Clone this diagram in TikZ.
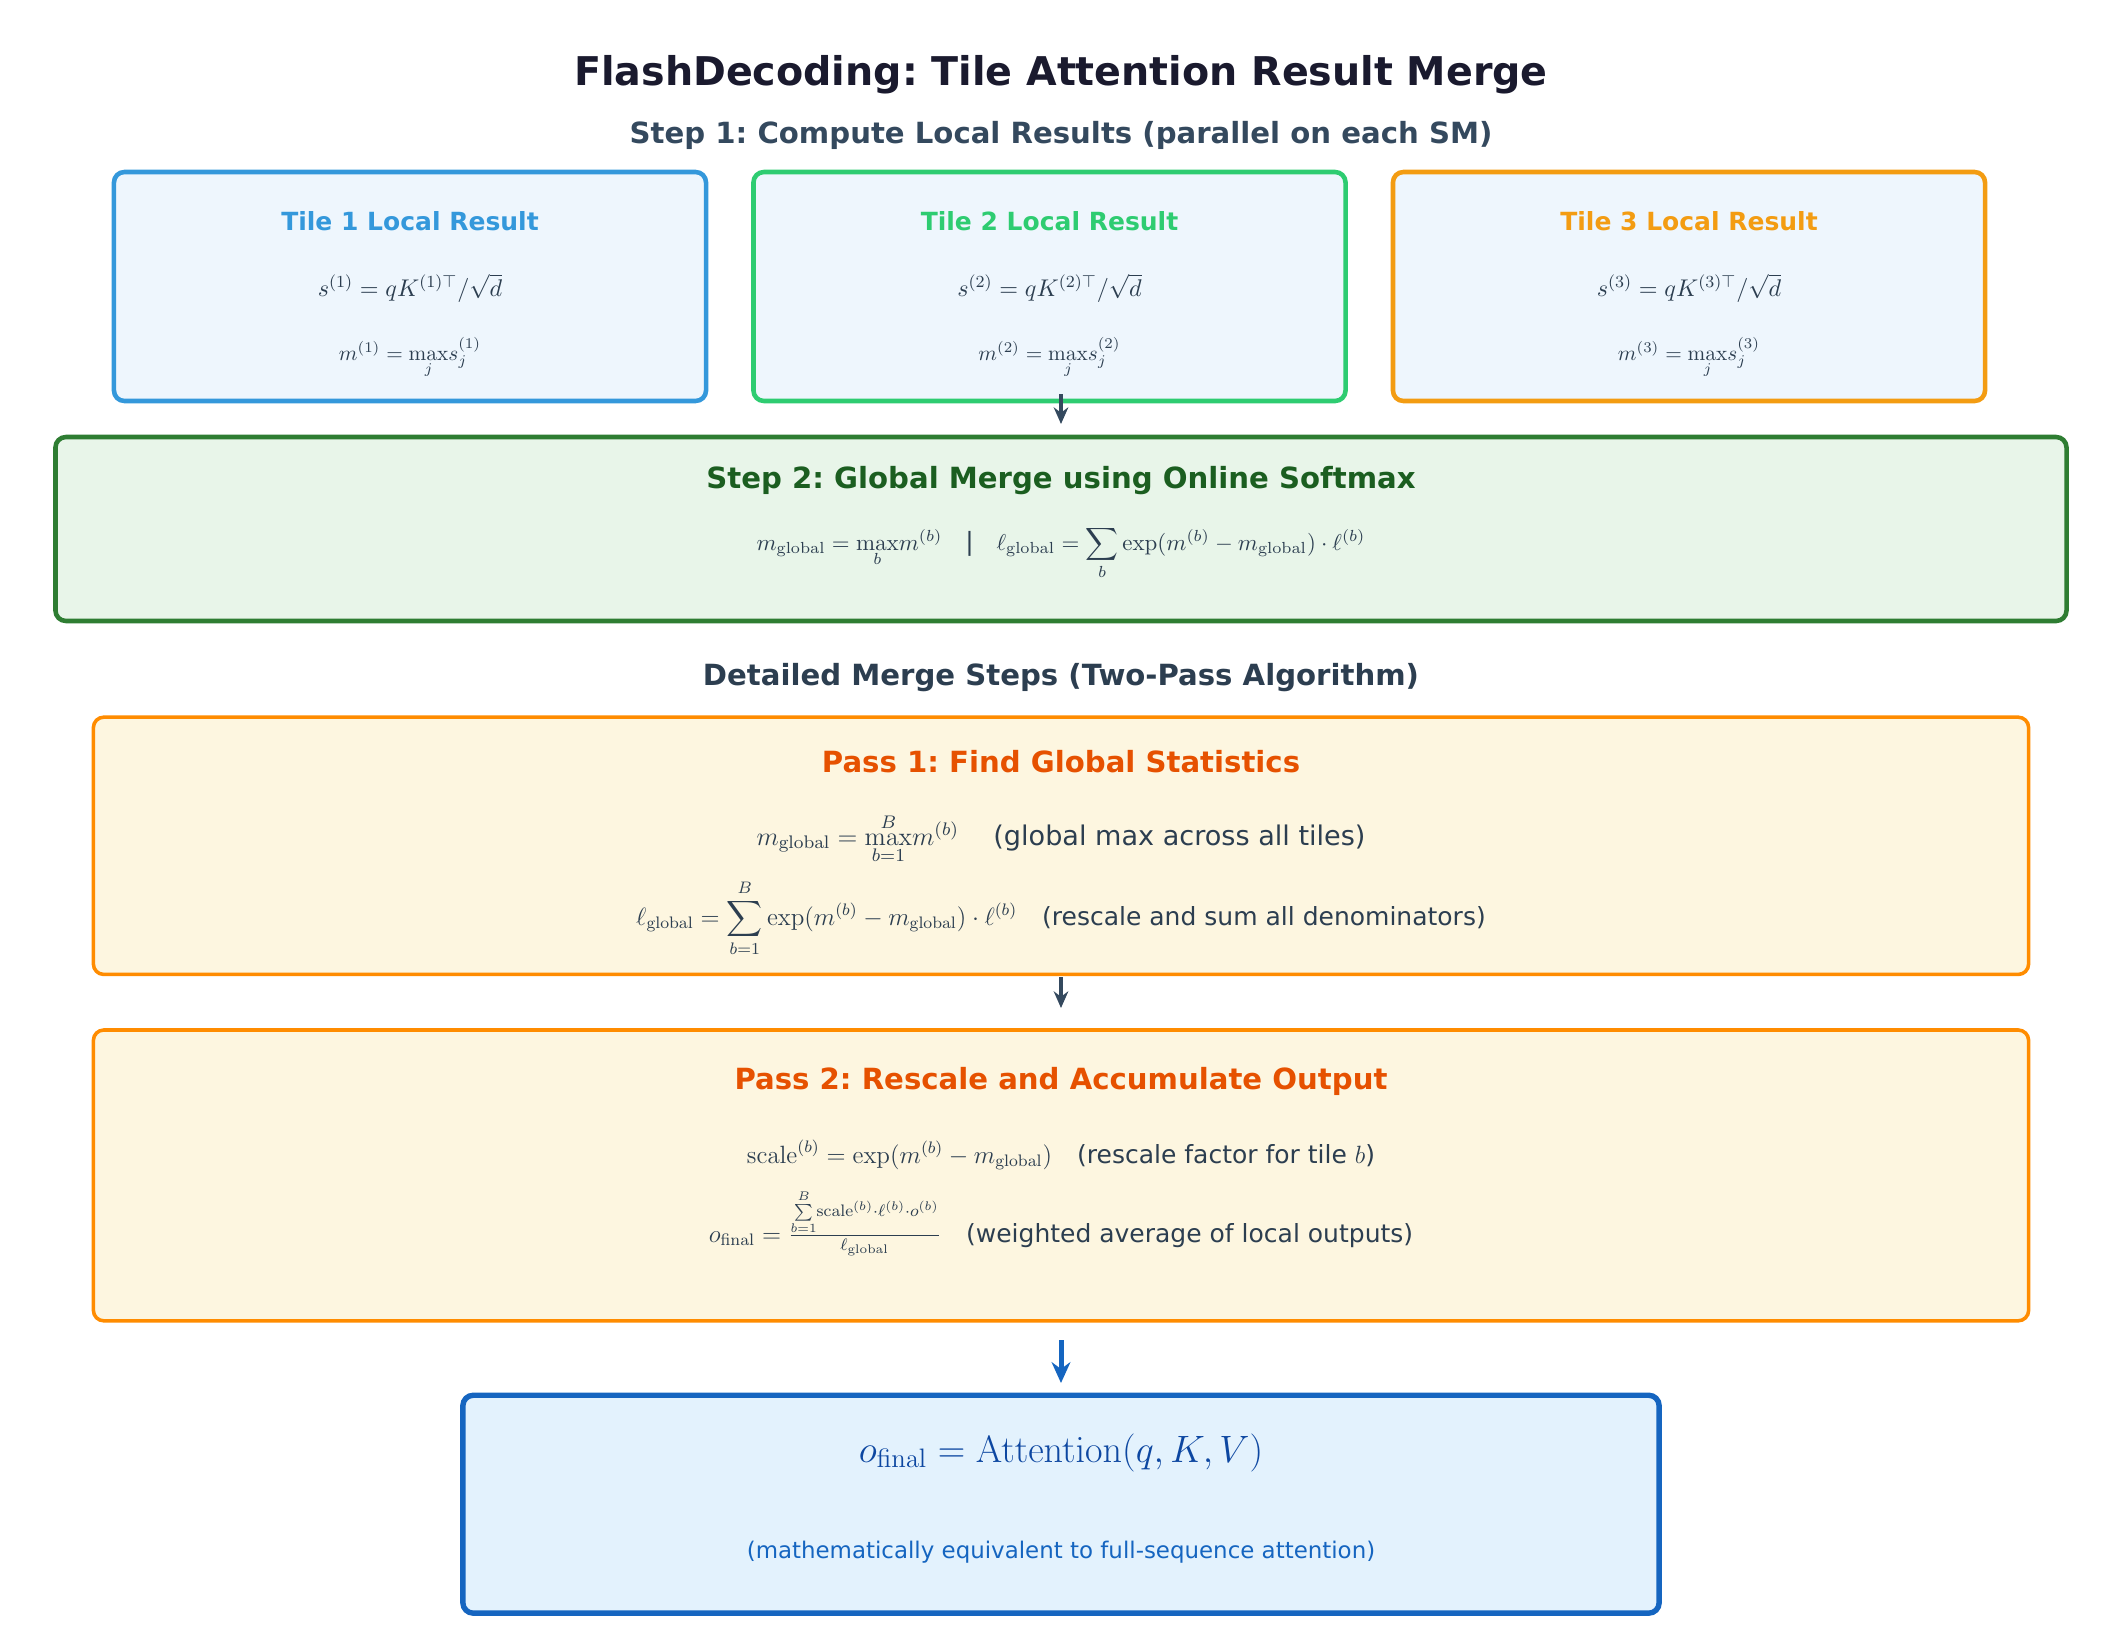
\RequirePackage{fix-cm}
\documentclass[tikz,border=0pt]{standalone}
\usepackage{amsmath}
\usepackage[no-math]{fontspec}
\newfontfamily\dv{DejaVu Sans}
\usetikzlibrary{arrows.meta}
\frenchspacing
\definecolor{navy}{HTML}{1A1A2E}
\definecolor{slate}{HTML}{34495E}
\definecolor{ink}{HTML}{2C3E50}
\definecolor{tfill}{HTML}{EEF6FD}
\definecolor{tblue}{HTML}{3498DB}
\definecolor{tgreen}{HTML}{2ECC71}
\definecolor{torange}{HTML}{F39C12}
\definecolor{sfill}{HTML}{E8F5E9}
\definecolor{sborder}{HTML}{2E7D32}
\definecolor{stitle}{HTML}{1B5E20}
\definecolor{pfill}{HTML}{FDF6E0}
\definecolor{pborder}{HTML}{FF8C00}
\definecolor{ptitle}{HTML}{E65100}
\definecolor{ffill}{HTML}{E3F2FD}
\definecolor{fborder}{HTML}{1565C0}
\definecolor{fformula}{HTML}{0D47A1}
\newcommand\mglob{m_{\mathrm{global}}}
\newcommand\lglob{\ell_{\mathrm{global}}}
\newcommand\notefont{\dv\fontsize{12}{14}\selectfont}
\newcommand\bignotefont{\dv\fontsize{13}{15}\selectfont}
\begin{document}
\begin{tikzpicture}[x=0.48pt,y=-0.48pt,
  box/.style={rounded corners=5pt, inner sep=0pt},
  tilebox/.style={box, fill=tfill, line width=2.2pt, minimum width=284.2pt, minimum height=109.9pt},
  passbox/.style={box, fill=pfill, draw=pborder, line width=1.7pt, minimum width=928.9pt, minimum height=123.5pt},
  lbl/.style={inner sep=0pt, anchor=base, text=ink},
  hd/.style={lbl, font=\dv\bfseries},
  arr/.style={draw=slate, line width=1.5pt, -{Stealth[length=8pt,width=7pt]}},
]
\useasboundingbox (0,0) rectangle (2122,1647);
% title
\node[hd, text=navy, font=\dv\bfseries\fontsize{19}{23}\selectfont] (title) at (1061,85) {FlashDecoding: Tile Attention Result Merge};
\node[hd, text=slate, font=\dv\bfseries\fontsize{14}{16}\selectfont] (step1) at (1061,143) {Step 1: Compute Local Results (parallel on each SM)};
% tiles
\node[tilebox, draw=tblue] (t1) at (410,286.5) {};
\node[tilebox, draw=tgreen] (t2) at (1049.5,286.5) {};
\node[tilebox, draw=torange] (t3) at (1689,286.5) {};
\foreach \i/\c/\x in {1/tblue/410, 2/tgreen/1049.5, 3/torange/1689} {
  \node[hd, text=\c, font=\dv\bfseries\fontsize{12}{14}\selectfont] (tt\i) at (\x,230) {Tile \i\ Local Result};
  \node[lbl, font=\fontsize{11.6}{14}\selectfont] (ts\i) at (\x,296.5) {$s^{(\i)} = qK^{(\i)\top}/\sqrt{d}$};
  \node[lbl, font=\fontsize{10.2}{12}\selectfont] (tm\i) at (\x,360) {$m^{(\i)} = {\max\limits_{j}} s_j^{(\i)}$};
}
% step 2
\node[box, fill=sfill, draw=sborder, line width=2.2pt, minimum width=965.3pt, minimum height=88.3pt] (s2) at (1061,529) {};
\node[hd, text=stitle, font=\dv\bfseries\fontsize{14}{16}\selectfont] (s2t) at (1061,488) {Step 2: Global Merge using Online Softmax};
\node[lbl, font=\fontsize{11}{13}\selectfont] (s2f) at (1061,550) {$\mglob = {\max\limits_{b}} m^{(b)}$\quad{\dv\fontsize{12}{14}\selectfont |}\quad$\lglob = {\displaystyle\sum_{b}}\exp(m^{(b)} - \mglob)\cdot\ell^{(b)}$};
\coordinate (a1s) at (1061,394);
\coordinate (a1e) at (1061,424);
\draw[arr] (a1s) -- (a1e);
% detailed
\node[hd, text=ink, font=\dv\bfseries\fontsize{14}{16}\selectfont] (det) at (1061,685) {Detailed Merge Steps (Two-Pass Algorithm)};
% pass 1
\node[passbox] (p1) at (1061,845.8) {};
\node[hd, text=ptitle, font=\dv\bfseries\fontsize{14}{16}\selectfont] (p1t) at (1061,772) {Pass 1: Find Global Statistics};
\node[lbl, font=\fontsize{12.5}{15}\selectfont] (p1a) at (1061,845) {$\mglob = {\max\limits_{b=1}^{B}} m^{(b)}$\quad\ {\bignotefont (global max across all tiles)}};
\node[lbl, font=\fontsize{12}{14}\selectfont] (p1b) at (1061,925) {$\lglob = {\displaystyle\sum_{b=1}^{B}}\exp(m^{(b)} - \mglob)\cdot\ell^{(b)}$\quad{\notefont (rescale and sum all denominators)}};
\coordinate (a2s) at (1061,977);
\coordinate (a2e) at (1061,1008);
\draw[arr] (a2s) -- (a2e);
% pass 2
\node[passbox, minimum height=139.6pt] (p2) at (1061,1175.4) {};
\node[hd, text=ptitle, font=\dv\bfseries\fontsize{14}{16}\selectfont] (p2t) at (1061,1089) {Pass 2: Rescale and Accumulate Output};
\node[lbl, font=\fontsize{12}{14}\selectfont] (p2a) at (1061,1163) {$\mathrm{scale}^{(b)} = \exp(m^{(b)} - \mglob)$\quad{\notefont (rescale factor for tile $b$)}};
\node[lbl, font=\fontsize{12}{14}\selectfont] (p2b) at (1061,1242) {$o_{\mathrm{final}} = \frac{{\sum\limits_{b=1}^{B}}\mathrm{scale}^{(b)}\cdot\ell^{(b)}\cdot o^{(b)}}{\lglob}$\quad{\notefont (weighted average of local outputs)}};
\coordinate (a3s) at (1061,1340);
\coordinate (a3e) at (1061,1383);
\draw[arr, draw=fborder, line width=2.4pt, -{Stealth[length=10pt,width=9pt]}] (a3s) -- (a3e);
% final
\node[box, fill=ffill, draw=fborder, line width=2.6pt, minimum width=574.2pt, minimum height=104.6pt] (fin) at (1061,1504.2) {};
\node[lbl, text=fformula, font=\fontsize{18.3}{22}\selectfont] (finf) at (1061,1462) {$o_{\mathrm{final}} = \mathrm{Attention}(q, K, V)$};
\node[lbl, text=fborder, font=\dv\fontsize{11}{13}\selectfont] (fins) at (1061,1558) {(mathematically equivalent to full-sequence attention)};
\end{tikzpicture}
\end{document}
